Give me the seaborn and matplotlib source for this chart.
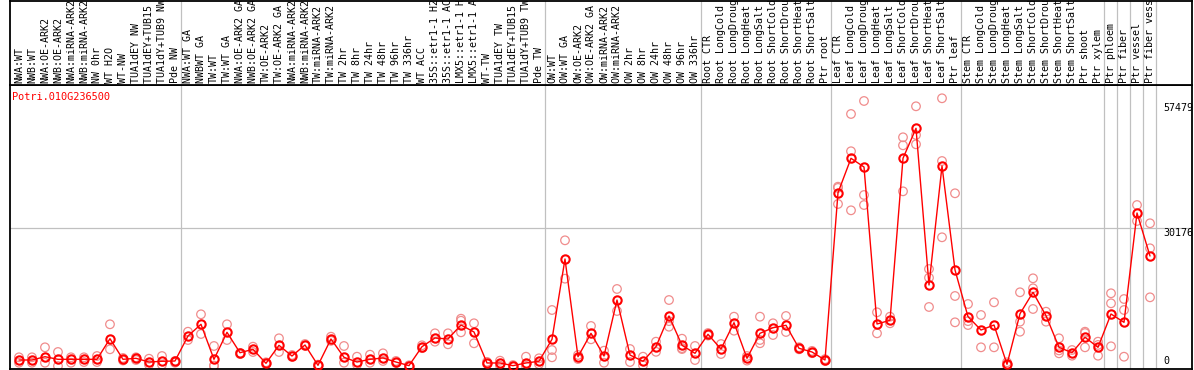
import numpy as np
import pandas as pd
import matplotlib
matplotlib.use('Agg')
import matplotlib.pyplot as plt
import seaborn as sns

# Data
gene = 'Potri.010G236500'
categories = [
    'NWA:WT', 'NWB:WT', 'NWA:OE-ARK2', 'NWB:OE-ARK2', 'NWA:miRNA-ARK2', 'NWB:miRNA-ARK2',
    'NW 0hr', 'WT H2O', 'WT-NW', 'TUA1dEY NW', 'TUA1dEY+TUB15 NW', 'TUA1dY+TUB9 NW', 'Pde NW',
    'NWA:WT GA', 'NWBWT GA', 'TW:WT', 'TW:WT GA', 'NWA:OE-ARK2 GA', 'NWB:OE-ARK2 GA',
    'TW:OE-ARK2', 'TW:OE-ARK2 GA', 'NWA:miRNA-ARK2', 'NWB:miRNA-ARK2', 'TW:miRNA-ARK2',
    'TW:miRNA-ARK2 GA', 'TW 2hr', 'TW 8hr', 'TW 24hr', 'TW 48hr', 'TW 96hr', 'TW 336hr',
    'WT ACC', '35S::etr1-1 H2O', '35S::etr1-1 ACC', 'LMX5::etr1-1 H2O', 'LMX5::etr1-1 ACC',
    'WT-TW', 'TUA1dEY TW', 'TUA1dEY+TUB15 TW', 'TUA1dY+TUB9 TW', 'Pde TW',
    'OW:WT', 'OW:WT GA', 'OW:OE-ARK2', 'OW:OE-ARK2 GA', 'OW:miRNA-ARK2', 'OW:miRNA-ARK2 GA',
    'OW 2hr', 'OW 8hr', 'OW 24hr', 'OW 48hr', 'OW 96hr', 'OW 336hr',
    'Root CTR', 'Root LongCold', 'Root LongDrought', 'Root LongHeat', 'Root LongSalt',
    'Root ShortCold', 'Root ShortDrought', 'Root ShortHeat', 'Root ShortSalt', 'Ptr root',
    'Leaf CTR', 'Leaf LongCold', 'Leaf LongDrought', 'Leaf LongHeat', 'Leaf LongSalt',
    'Leaf ShortCold', 'Leaf ShortDrought', 'Leaf ShortHeat', 'Leaf ShortSalt', 'Ptr leaf',
    'Stem CTR', 'Stem LongCold', 'Stem LongDrought', 'Stem LongHeat', 'Stem LongSalt',
    'Stem ShortCold', 'Stem ShortDrought', 'Stem ShortHeat', 'Stem ShortSalt', 'Ptr shoot',
    'Ptr xylem', 'Ptr phloem', 'Ptr fiber', 'Ptr vessel', 'Ptr fiber vessel',
]
mean_expr = [
    1310, 1310, 2030, 1460, 1460, 1460, 1460, 5960, 1460, 1680, 870, 1030, 1090,
    6550, 9110, 1460, 7360, 2900, 3650, 590, 4520, 2180, 4590, 150, 5900, 1900,
    870, 1460, 1750, 870, 80, 4220, 6120, 5900, 8950, 7430, 660, 660, 70, 660, 1030,
    5830, 23370, 2030, 7140, 2180, 14410, 2400, 1030, 4220, 10920, 4520, 2770,
    6920, 3710, 9460, 1680, 7140, 8360, 8890, 3870, 3060, 1310,
    37850, 45360, 43460, 9170, 9980, 45360, 51910, 17690, 43680, 20970,
    10770, 7860, 8950, 370, 11420, 16100, 10990, 4080, 2900, 6270, 4080,
    11360, 9540, 33420, 24020,
]
nan = np.nan
rep_a = [
    1900, 1900, 4080, 3060, 1900, 1900, 2180, 9110, 1750, 1900, 1590, 2180, 1090,
    7490, 11290, 4370, 9110, 2620, 4220, 800, 6050, 2400, 4800, 300, 6400, 4370,
    2030, 2470, 2770, 1100, 150, 4520, 7140, 7140, 10330, 9330, 900, 1160, 200, 2030, 1680,
    12230, 27450, 2400, 8740, 3340, 16820, 3710, 2030, 5310, 14410, 5960, 4370,
    7200, 4800, 10770, 2180, 10770, 9330, 10920, 4100, 3300, 1500,
    39160, 55040, 57880, 11730, 10770, 49950, 56720, 21180, 58470, 37720,
    13540, 11140, 13910, 810, 16100, 19150, 11860, 6050, 3490, 7490, 5310,
    15880, 14630, 35160, 31170,
]
rep_b = [
    720, 720, 720, 0, 720, 870, 870, 3650, 1200, 1310, 280, 280, 720,
    5680, 6990, 100, 5680, 2840, 3060, 400, 3060, 2000, 4400, 0, 5500, 720,
    280, 720, 1100, 650, 0, 3900, 5310, 4740, 9890, 4960, 450, 70, 0, 0, 400,
    3490, 19070, 1530, 5830, 720, 12010, 870, 150, 3100, 9800, 3900, 1310,
    6650, 2620, 7710, 1180, 5680, 6770, 7430, 3650, 2800, 1100,
    35380, 46900, 37350, 7140, 9330, 48200, 50450, 19280, 44770, 15290,
    9800, 4080, 4080, 100, 9680, 16970, 9680, 2770, 2250, 4080, 2250,
    13690, 12230, 31670, 25710,
]
rep_c = [
    nan, nan, nan, nan, nan, nan, nan, nan, nan, nan, nan, nan, nan,
    nan, nan, 0, nan, nan, nan, nan, nan, nan, nan, nan, nan, nan,
    nan, nan, nan, nan, nan, nan, nan, nan, 7360, nan, nan, nan, nan, nan, nan,
    1900, nan, nan, nan, nan, nan, nan, nan, nan, 8580, 3700, nan,
    nan, nan, nan, nan, 4970, nan, nan, nan, nan, nan,
    38900, 34000, 35160, nan, nan, 38150, 48420, 12890, 28110, 9540,
    8950, nan, nan, nan, 7490, 12450, nan, 3400, nan, 7200, 4600,
    4300, 2030, nan, 15000,
]
group_ends = [12, 40, 52, 62, 72, 83, 84, 85, 86, 87]
y_labels = [57479, 30176, 0]

sns.set_style('white')
plt.rcParams['font.family'] = ['DejaVu Sans Mono']

n = len(categories)
df = pd.DataFrame({'pos': np.arange(n), 'sample': categories, 'mean': mean_expr})
reps = pd.DataFrame({'pos': np.arange(n), 'a': rep_a, 'b': rep_b, 'c': rep_c})
reps = reps.melt(id_vars='pos', value_name='expr').dropna()

W, H = 1194, 370
fig = plt.figure(figsize=(W / 100, H / 100), dpi=100)
ax = fig.add_axes([10 / W, 1 / H, 1182 / W, 284 / H])
lab = fig.add_axes([10 / W, 285 / H, 1182 / W, 84.5 / H])

xlim = (-0.69, 90.23)
ax.set_xlim(*xlim)
ax.set_ylim(-655, 61370)
lab.set_xlim(*xlim)
lab.set_ylim(0, 1)

# separators and grid
for e in group_ends:
    ax.axvline(e + 0.45, color='#c0c0c0', lw=0.9, zorder=1)
    lab.axvline(e + 0.45, color='#c0c0c0', lw=0.9, zorder=1)
ax.axhline(30176, color='#c0c0c0', lw=0.9, zorder=1)

# replicates then means
sns.scatterplot(data=reps, x='pos', y='expr', ax=ax, color='#f08c8c',
                facecolors='none', edgecolor='#f08c8c', s=38, linewidth=0.9,
                zorder=2, legend=False)
sns.lineplot(data=df, x='pos', y='mean', ax=ax, color='red', lw=1,
             marker='o', markersize=6, markerfacecolor='none',
             markeredgecolor='red', markeredgewidth=1.5, zorder=3)

ax.set_xticks([])
ax.set_yticks([])
ax.set_xlabel('')
ax.set_ylabel('')
lab.set_xticks([])
lab.set_yticks([])

for v in y_labels:
    ax.text(88.0, v, str(v), ha='left', va='bottom' if v == 0 else 'top',
            fontsize=7.2, color='black')

ax.text(2 / 1182, (369 - 97) / 284, gene, transform=ax.transAxes,
        ha='left', va='center', fontsize=7.4, color='red')

for i, name in enumerate(categories):
    lab.text(i, 2 / 84.5, name, rotation=90, ha='center', va='bottom',
             fontsize=7.2, color='black', clip_on=True,
             transform=lab.get_xaxis_transform())

for a in (ax, lab):
    for s in a.spines.values():
        s.set_color('black')
        s.set_linewidth(1.3)
        s.set_visible(True)

fig.savefig('out.png', dpi=100)
